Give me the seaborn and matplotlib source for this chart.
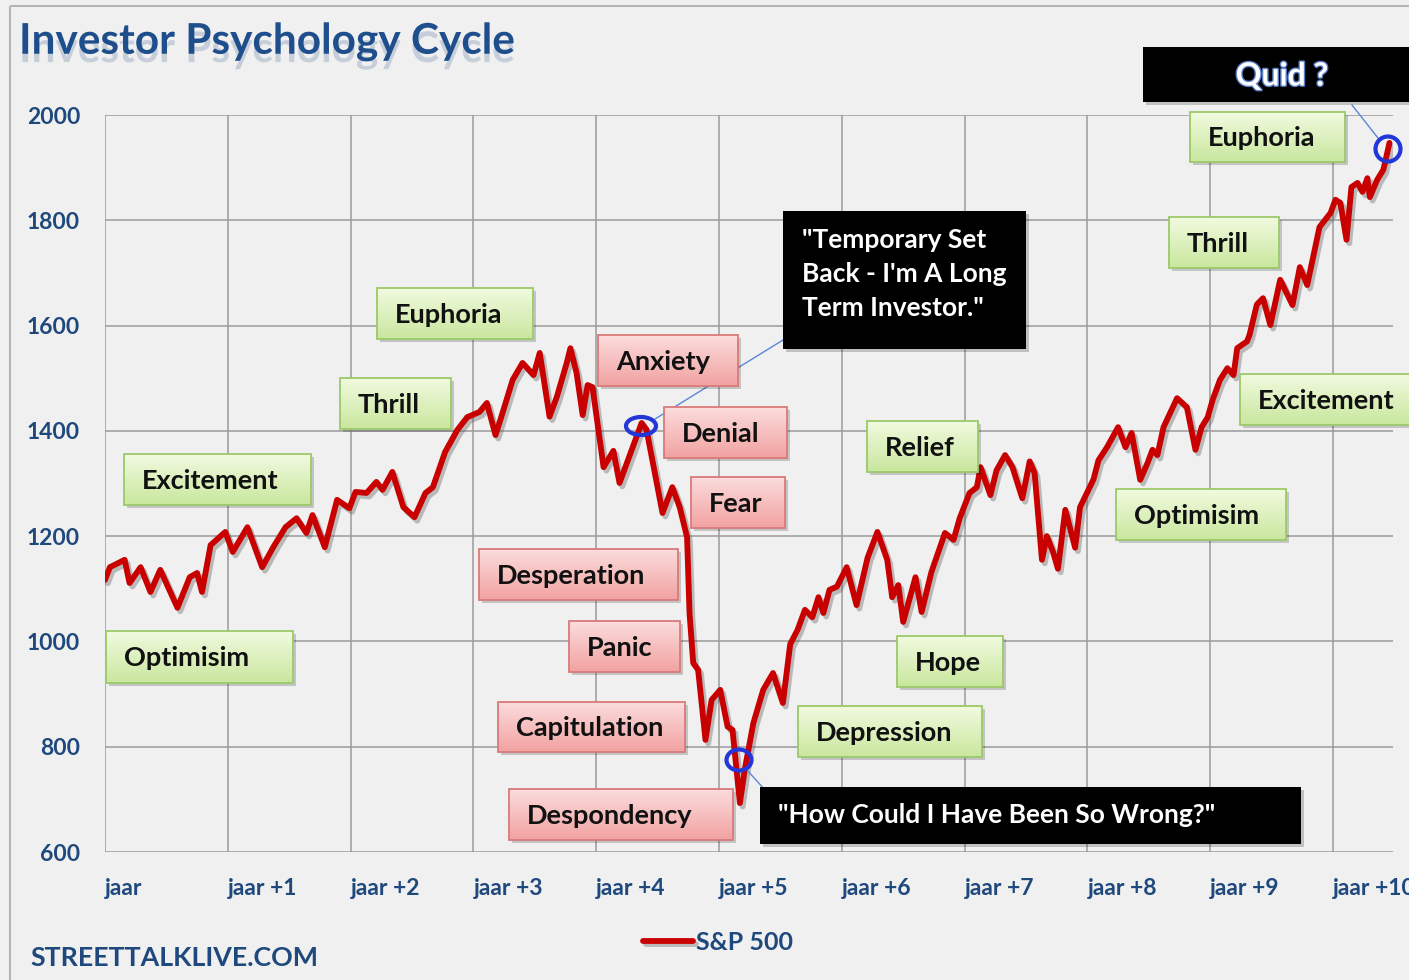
import numpy as np
import matplotlib
matplotlib.use('Agg')
import matplotlib.pyplot as plt
import matplotlib.patheffects as pe
from matplotlib.patches import Rectangle, Ellipse
from matplotlib.colors import LinearSegmentedColormap
import seaborn as sns

# S&P 500 trace (x in years from "jaar")
years = [0.00, 0.04, 0.16, 0.20, 0.29, 0.37, 0.45, 0.59, 0.69, 0.75, 0.79, 0.86, 0.98,
         1.04, 1.16, 1.28, 1.37, 1.47, 1.56, 1.64, 1.69, 1.79, 1.89, 1.99, 2.04, 2.13,
         2.21, 2.26, 2.34, 2.43, 2.52, 2.61, 2.67, 2.77, 2.87, 2.95, 3.05, 3.11, 3.18,
         3.22, 3.32, 3.40, 3.49, 3.54, 3.62, 3.68, 3.76, 3.79, 3.84, 3.89, 3.93, 3.97,
         4.06, 4.14, 4.19, 4.28, 4.37, 4.41, 4.54, 4.62, 4.68, 4.74, 4.76, 4.79, 4.83,
         4.89, 4.94, 5.01, 5.07, 5.11, 5.17, 5.21, 5.28, 5.36, 5.44, 5.52, 5.58, 5.64,
         5.70, 5.76, 5.81, 5.85, 5.90, 5.96, 6.04, 6.12, 6.21, 6.29, 6.37, 6.41, 6.46,
         6.50, 6.60, 6.65, 6.73, 6.84, 6.91, 6.96, 7.04, 7.10, 7.13, 7.21, 7.26, 7.33,
         7.39, 7.47, 7.53, 7.57, 7.63, 7.67, 7.72, 7.76, 7.82, 7.90, 7.94, 8.05, 8.09,
         8.16, 8.25, 8.31, 8.36, 8.43, 8.49, 8.53, 8.57, 8.62, 8.73, 8.81, 8.88, 8.93,
         8.98, 9.02, 9.08, 9.14, 9.19, 9.22, 9.30, 9.32, 9.38, 9.43, 9.49, 9.57, 9.67,
         9.73, 9.79, 9.89, 9.98, 10.02, 10.06, 10.11, 10.15, 10.20, 10.24, 10.28, 10.30,
         10.36, 10.41, 10.46]
sp500 = [1117, 1141, 1155, 1111, 1141, 1094, 1136, 1064, 1122, 1130, 1094, 1183, 1208,
         1170, 1217, 1141, 1179, 1217, 1234, 1206, 1240, 1179, 1269, 1253, 1284, 1282,
         1303, 1288, 1322, 1255, 1236, 1282, 1293, 1360, 1402, 1426, 1436, 1453, 1392,
         1421, 1497, 1529, 1506, 1548, 1427, 1465, 1529, 1557, 1510, 1430, 1487, 1483,
         1331, 1362, 1301, 1358, 1415, 1402, 1244, 1293, 1255, 1198, 1054, 959, 946,
         813, 889, 908, 838, 832, 693, 757, 845, 908, 940, 883, 995, 1022,
         1060, 1046, 1084, 1054, 1098, 1104, 1141, 1069, 1159, 1208, 1155, 1084, 1107,
         1037, 1122, 1056, 1132, 1206, 1193, 1234, 1282, 1293, 1331, 1278, 1325, 1354,
         1331, 1272, 1342, 1320, 1155, 1200, 1170, 1138, 1250, 1178, 1255, 1308, 1344,
         1369, 1407, 1369, 1396, 1307, 1339, 1364, 1354, 1407, 1462, 1445, 1364, 1407,
         1426, 1459, 1497, 1519, 1506, 1557, 1570, 1582, 1640, 1652, 1601, 1687, 1639,
         1711, 1677, 1787, 1814, 1839, 1833, 1763, 1863, 1871, 1854, 1880, 1844,
         1877, 1896, 1947]

year_labels = ['jaar'] + ['jaar +%d' % i for i in range(1, 11)]
y_ticks = [600, 800, 1000, 1200, 1400, 1600, 1800, 2000]

green_labels = ['Optimisim', 'Excitement', 'Thrill', 'Euphoria', 'Relief', 'Hope',
                'Depression', 'Optimisim', 'Excitement', 'Thrill', 'Euphoria']
red_labels = ['Anxiety', 'Denial', 'Fear', 'Desperation', 'Panic', 'Capitulation',
              'Despondency']

# box layout in image pixels (x0, y0, x1, y1)
green_boxes = [(106, 631, 293, 683), (124, 454, 311, 505), (340, 378, 451, 429),
               (377, 288, 533, 339), (867, 421, 978, 472), (897, 636, 1003, 687),
               (798, 706, 982, 757), (1116, 489, 1286, 540), (1240, 374, 1412, 425),
               (1169, 217, 1279, 268), (1190, 112, 1345, 162)]
red_boxes = [(598, 335, 738, 386), (664, 407, 787, 458), (691, 477, 785, 528),
             (479, 549, 678, 600), (569, 621, 680, 672), (498, 702, 685, 752),
             (509, 789, 733, 840)]

W, H = 1409, 980
BG = '#f0f0f0'
NAVY = '#1f497d'
FONT = 'Lato'

sns.set_style('white', {'axes.facecolor': BG, 'figure.facecolor': BG})
plt.rcParams['font.family'] = [FONT, 'DejaVu Sans']

fig = plt.figure(figsize=(W / 100, H / 100), dpi=100)
ax = fig.add_axes([105 / W, 1 - 852 / H, (1393 - 105) / W, (852 - 115) / H])

sns.lineplot(x=years, y=sp500, ax=ax, color='#c80000', linewidth=4.2, zorder=3,
             label='S&P 500',
             path_effects=[pe.SimpleLineShadow(offset=(2, -2.5), shadow_color='#555555', alpha=0.35),
                           pe.Normal()])

ax.set_xlim(0, (1393 - 105) / 122.8)
ax.set_ylim(600, 2000)
ax.set_xticks(range(11))
ax.set_xticklabels(year_labels, ha='left')
ax.set_yticks(y_ticks)
ax.grid(True, color='#9a9a9a', linewidth=1.1)
ax.set_axisbelow(True)
for s in ax.spines.values():
    s.set_visible(False)
ax.tick_params(axis='both', direction='out', length=6, width=1.1, color='#9a9a9a',
               labelcolor=NAVY, labelsize=16.5)
ax.tick_params(axis='x', pad=13)
ax.tick_params(axis='y', pad=12)
for lab in ax.get_xticklabels() + ax.get_yticklabels():
    lab.set_fontweight('bold')

leg = ax.legend(loc='center', bbox_to_anchor=(718 / W, 1 - 942 / H),
                bbox_transform=fig.transFigure, frameon=False, handlelength=2.0,
                handletextpad=0.1, prop={'family': FONT, 'weight': 'bold', 'size': 18})
for t in leg.get_texts():
    t.set_color(NAVY)

# overlay in pixel coordinates for the annotations
ov = fig.add_axes([0, 0, 1, 1])
ov.patch.set_alpha(0)
ov.axis('off')
ov.set_zorder(5)

ov.add_patch(Rectangle((10, 6), W, H, fill=False, edgecolor='#b5b5b5', linewidth=1.5))

ov.text(19, 42, 'Investor Psychology Cycle', fontsize=30.5, fontweight='bold', color='#1f4e8c',
        va='center', ha='left',
        path_effects=[pe.SimplePatchShadow(offset=(0, -6), shadow_rgbFace='#7a8fb0', alpha=0.35),
                      pe.Normal()])
ov.text(30, 958, 'STREETTALKLIVE.COM', fontsize=19.3, fontweight='bold', color=NAVY,
        va='center', ha='left')

green_cmap = LinearSegmentedColormap.from_list('g', ['#f1fadf', '#c9e79e'])
red_cmap = LinearSegmentedColormap.from_list('r', ['#fbdcdc', '#f2a2a2'])
grad = np.linspace(0, 1, 64).reshape(-1, 1)


def label_box(box, text, cmap, edge):
    x0, y0, x1, y1 = box
    ov.add_patch(Rectangle((x0 + 3, y0 + 3), x1 - x0, y1 - y0, facecolor='#000000',
                           alpha=0.18, linewidth=0, zorder=6))
    ov.imshow(grad, extent=(x0, x1, y1, y0), cmap=cmap, aspect='auto', zorder=7,
              interpolation='bilinear')
    ov.add_patch(Rectangle((x0, y0), x1 - x0, y1 - y0, fill=False, edgecolor=edge,
                           linewidth=1.3, zorder=8))
    ov.text(x0 + 18, (y0 + y1) / 2 + 1, text, fontsize=19.5, fontweight='bold', color='#111111',
            ha='left', va='center', zorder=9)


for box, text in zip(green_boxes, green_labels):
    label_box(box, text, green_cmap, '#9cc96a')
for box, text in zip(red_boxes, red_labels):
    label_box(box, text, red_cmap, '#d97a7a')


def black_box(box, zorder=7):
    x0, y0, x1, y1 = box
    ov.add_patch(Rectangle((x0 + 3, y0 + 3), x1 - x0, y1 - y0, facecolor='#000000',
                           alpha=0.2, linewidth=0, zorder=zorder - 1))
    ov.add_patch(Rectangle((x0, y0), x1 - x0, y1 - y0, facecolor='#000000',
                           linewidth=0, zorder=zorder))


# connectors and circles
ov.plot([655, 783], [419, 340], color='#5b86d6', linewidth=1, zorder=5)
ov.plot([747, 765], [770, 790], color='#5b86d6', linewidth=1, zorder=5)
ov.plot([1378, 1352], [138, 105], color='#5b86d6', linewidth=1, zorder=5)
for cx, cy, w, h in [(641, 426, 30, 18), (739, 760, 25, 21), (1388, 149, 25, 25)]:
    ov.add_patch(Ellipse((cx, cy), w, h, fill=False, edgecolor='#2336d8', linewidth=3,
                         zorder=10))

black_box((783, 211, 1026, 349))
ov.text(802, 274, '"Temporary Set\nBack - I\'m A Long\nTerm Investor."', fontsize=19,
        fontweight='bold', color='white', ha='left', va='center', linespacing=1.52, zorder=9)
black_box((760, 787, 1301, 844))
ov.text(778, 815, '"How Could I Have Been So Wrong?"', fontsize=19, fontweight='bold',
        color='white', ha='left', va='center', zorder=9)
black_box((1143, 47, 1420, 102))
ov.text(1282, 76, 'Quid ?', fontsize=23, fontweight='bold', color='white', ha='center',
        va='center', zorder=9,
        path_effects=[pe.withStroke(linewidth=2, foreground='#5a7ec8')])

ov.set_xlim(0, W)
ov.set_ylim(H, 0)

fig.savefig('out.png', dpi=100, facecolor=BG)
